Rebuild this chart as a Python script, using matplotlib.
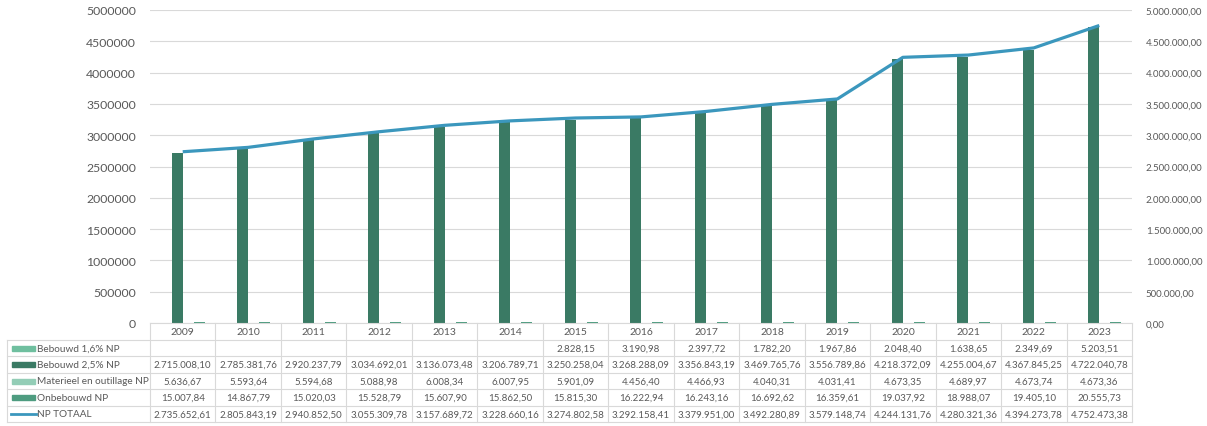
import numpy as np
import matplotlib.pyplot as plt
import matplotlib.transforms as mtransforms
from matplotlib.patches import Rectangle
from matplotlib.lines import Line2D

plt.rcParams['font.family'] = ['Lato', 'DejaVu Sans']

jaren = ['2009', '2010', '2011', '2012', '2013', '2014', '2015', '2016',
         '2017', '2018', '2019', '2020', '2021', '2022', '2023']

bebouwd_16 = [None, None, None, None, None, None, 2828.15, 3190.98,
              2397.72, 1782.20, 1967.86, 2048.40, 1638.65, 2349.69, 5203.51]
bebouwd_25 = [2715008.10, 2785381.76, 2920237.79, 3034692.01, 3136073.48,
              3206789.71, 3250258.04, 3268288.09, 3356843.19, 3469765.76,
              3556789.86, 4218372.09, 4255004.67, 4367845.25, 4722040.78]
materieel = [5636.67, 5593.64, 5594.68, 5088.98, 6008.34, 6007.95, 5901.09,
             4456.40, 4466.93, 4040.31, 4031.41, 4673.35, 4689.97, 4673.74,
             4673.36]
onbebouwd = [15007.84, 14867.79, 15020.03, 15528.79, 15607.90, 15862.50,
             15815.30, 16222.94, 16243.16, 16692.62, 16359.61, 19037.92,
             18988.07, 19405.10, 20555.73]
np_totaal = [2735652.61, 2805843.19, 2940852.50, 3055309.78, 3157689.72,
             3228660.16, 3274802.58, 3292158.41, 3379951.00, 3492280.89,
             3579148.74, 4244131.76, 4280321.36, 4394273.78, 4752473.38]

reeks_namen = ['Bebouwd 1,6% NP', 'Bebouwd 2,5% NP',
               'Materieel en outillage NP', 'Onbebouwd NP']
reeks_data = [bebouwd_16, bebouwd_25, materieel, onbebouwd]
reeks_kleur = ['#6fbf9f', '#3a7a64', '#93cdb6', '#4e9c80']
lijn_kleur = '#3b97bd'
raster = '#d9d9d9'
tekst = '#595959'

W, H = 1207, 427
fig = plt.figure(figsize=(W / 100, H / 100), dpi=100)

# plotgebied in pixels (links, boven, rechts, onder)
L, T, R, B = 150, 11, 1132, 324
ax = fig.add_axes([L / W, 1 - B / H, (R - L) / W, (B - T) / H])


def nl(v, dec=2):
    s = f"{v:,.{dec}f}"
    return s.replace(',', '#').replace('.', ',').replace('#', '.')


x = np.arange(len(jaren))
bw = 0.168
for i, (data, kleur) in enumerate(zip(reeks_data, reeks_kleur)):
    vals = [np.nan if v is None else v for v in data]
    ax.bar(x + (i - 1.5) * bw, vals, width=bw, color=kleur, zorder=2)

ax.set_xlim(-0.5, len(jaren) - 0.5)
ax.set_ylim(0, 5000000)
ax.set_yticks(np.arange(0, 5000001, 500000))
ax.set_yticklabels([str(int(v)) for v in ax.get_yticks()])
ax.grid(axis='y', color=raster, linewidth=0.8, zorder=0)
ax.set_xticks([])
for s in ['top', 'left', 'right']:
    ax.spines[s].set_visible(False)
ax.spines['bottom'].set_color(raster)
ax.tick_params(axis='y', length=0, colors=tekst, labelsize=8.8, pad=10)

ax2 = ax.twinx()
ax2.plot(x, np_totaal, color=lijn_kleur, linewidth=2.3, zorder=3,
         solid_capstyle='butt')
ax2.set_ylim(0, 5000000)
ax2.set_yticks(np.arange(0, 5000001, 500000))
ax2.set_yticklabels([nl(v) for v in ax2.get_yticks()])
for s in ['top', 'left', 'right', 'bottom']:
    ax2.spines[s].set_visible(False)
ax2.tick_params(axis='y', length=0, colors=tekst, labelsize=7, pad=10)

# gegevenstabel onder de grafiek
tr = mtransforms.blended_transform_factory(ax.transData, fig.transFigure)
fy = lambda p: 1 - p / H
fx = lambda p: p / W
rij_h = 16.4
kop_top, kop_onder = B, B + 17
rij_top = [kop_onder + k * rij_h for k in range(6)]
tabel_links = 7
fs = 7

for i, j in enumerate(jaren):
    ax.text(i, fy((kop_top + kop_onder) / 2), j, transform=tr, ha='center',
            va='center', fontsize=7.5, color=tekst)

lijnen_kw = dict(color=raster, linewidth=0.8, clip_on=False)
for k in range(6):
    fig.add_artist(Line2D([fx(tabel_links), fx(R)], [fy(rij_top[k])] * 2,
                          **lijnen_kw))
for i in range(len(jaren) + 1):
    fig.add_artist(Line2D([fx(L + i * (R - L) / len(jaren))] * 2,
                          [fy(kop_top), fy(rij_top[-1])], **lijnen_kw))
fig.add_artist(Line2D([fx(tabel_links)] * 2, [fy(rij_top[0]), fy(rij_top[-1])],
                      **lijnen_kw))

rijen = reeks_data + [np_totaal]
namen = reeks_namen + ['NP TOTAAL']
for r, (naam, data) in enumerate(zip(namen, rijen)):
    yc = fy(rij_top[r] + rij_h / 2)
    if r < 4:
        fig.add_artist(Rectangle((fx(12), yc - 2.5 / H), 23 / W, 5 / H,
                                 color=reeks_kleur[r]))
    else:
        fig.add_artist(Line2D([fx(11), fx(36)], [yc, yc], color=lijn_kleur,
                              linewidth=2))
    fig.text(fx(37), yc, naam, ha='left', va='center', fontsize=7.2,
             color=tekst)
    for i, v in enumerate(data):
        if v is None:
            continue
        ax.text(i, yc, nl(v), transform=tr, ha='center', va='center',
                fontsize=fs, color=tekst)

fig.savefig('out.png', dpi=100)
